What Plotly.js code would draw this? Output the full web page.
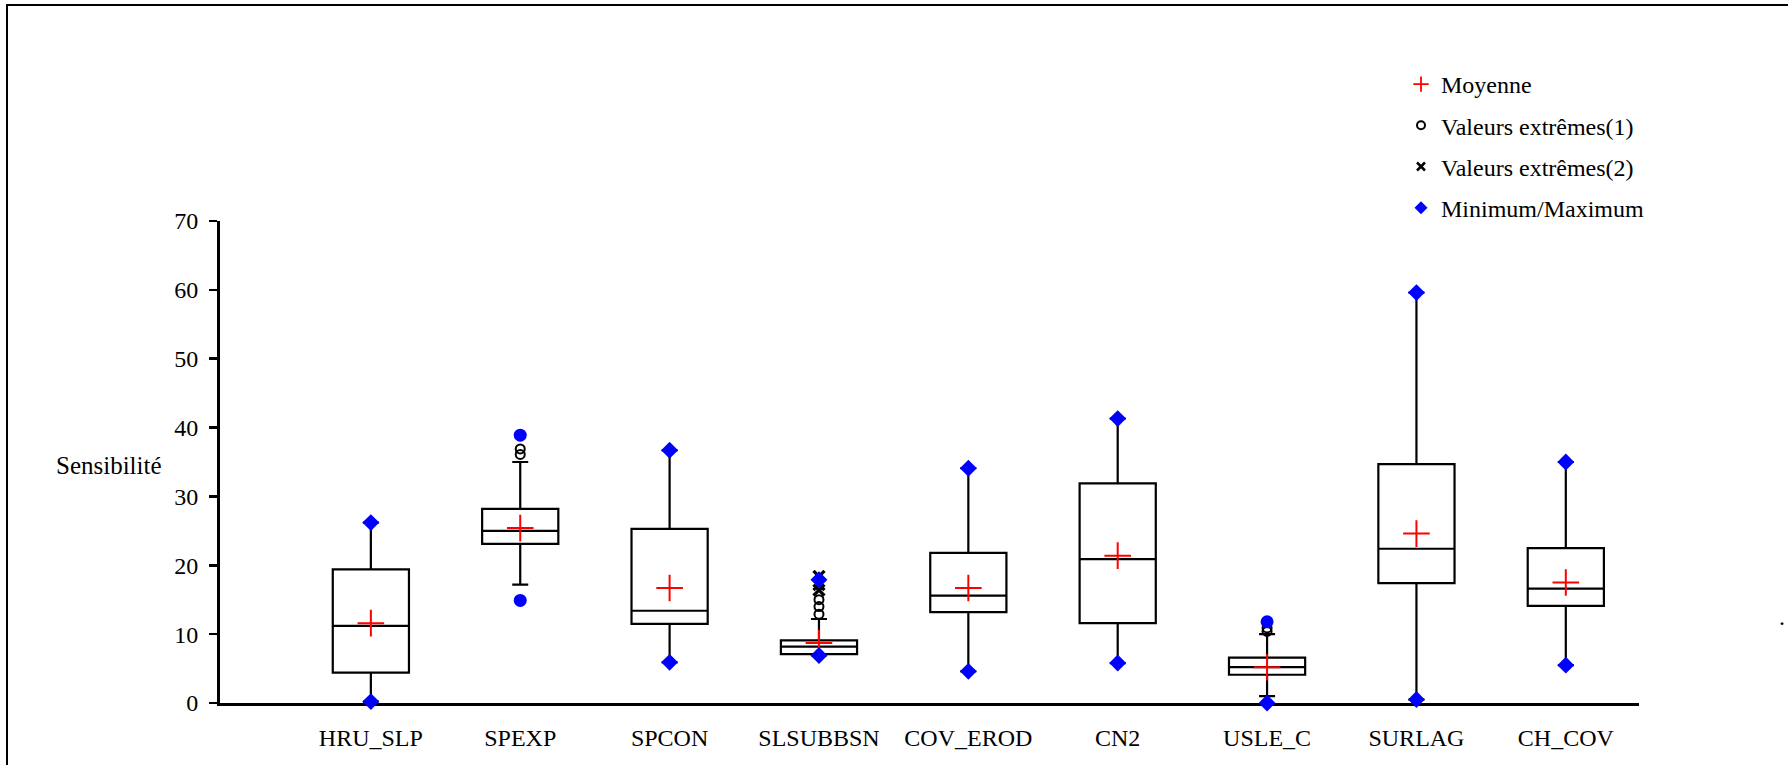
<!DOCTYPE html>
<html>
<head>
<meta charset="utf-8">
<script src="https://cdn.plot.ly/plotly-3.0.1.min.js"></script>
<style>
html, body { margin: 0; padding: 0; background: #fff; }
#wrap { position: relative; width: 1788px; height: 765px; overflow: hidden; }
#frame { position: absolute; left: 6px; top: 4px; width: 2000px; height: 1000px; border-left: 2px solid #000; border-top: 2px solid #000; pointer-events: none; z-index: 5; }
#chart { position: absolute; left: 0; top: 0; width: 1788px; height: 765px; }
</style>
</head>
<body>
<div id="wrap">
  <div id="chart"></div>
  <div id="frame"></div>
</div>
<script>
// ---- data ----
const categories = ['HRU_SLP', 'SPEXP', 'SPCON', 'SLSUBBSN', 'COV_EROD', 'CN2', 'USLE_C', 'SURLAG', 'CH_COV'];
const q1Values = [4.4, 23.1, 11.5, 7.1, 13.2, 11.6, 4.1, 17.4, 14.1];
const medianValues = [11.2, 25.0, 13.4, 8.2, 15.6, 20.9, 5.2, 22.4, 16.6];
const q3Values = [19.4, 28.2, 25.3, 9.1, 21.8, 31.9, 6.6, 34.7, 22.5];
const lowerWhisker = [0.2, 17.2, 5.9, 6.9, 4.6, 5.8, 1.0, 0.5, 5.5];
const upperWhisker = [26.2, 35.0, 36.7, 12.2, 34.1, 41.3, 10.0, 59.6, 35.0];
const meanValues = [11.6, 25.4, 16.7, 8.7, 16.7, 21.4, 5.2, 24.6, 17.5];
const minValues = [0.2, 14.9, 5.9, 6.9, 4.6, 5.8, 0.0, 0.5, 5.5];
const maxValues = [26.2, 38.9, 36.7, 17.9, 34.1, 41.3, 11.8, 59.6, 35.0];
const minSymbols = ['diamond', 'circle', 'diamond', 'diamond', 'diamond', 'diamond', 'diamond', 'diamond', 'diamond'];
const maxSymbols = ['diamond', 'circle', 'diamond', 'diamond', 'diamond', 'diamond', 'circle', 'diamond', 'diamond'];
const extreme1Cats = ['SPEXP', 'SPEXP', 'SLSUBBSN', 'SLSUBBSN', 'SLSUBBSN', 'USLE_C', 'USLE_C'];
const extreme1Vals = [36.1, 36.9, 12.9, 14.0, 15.0, 10.4, 10.9];
const extreme2Cats = ['SLSUBBSN', 'SLSUBBSN', 'SLSUBBSN'];
const extreme2Vals = [16.4, 17.2, 18.4];
const legendNames = ['Moyenne', 'Valeurs extrêmes(1)', 'Valeurs extrêmes(2)', 'Minimum/Maximum'];

const FONT = 'Liberation Serif, Times New Roman, serif';
const FS = 24;

// ---- traces ----
const boxTrace = {
  type: 'box',
  x: categories,
  q1: q1Values,
  median: medianValues,
  q3: q3Values,
  lowerfence: lowerWhisker,
  upperfence: upperWhisker,
  boxpoints: false,
  width: 0.51,
  whiskerwidth: 0.21,
  fillcolor: 'rgba(255,255,255,0)',
  line: { color: '#000', width: 2.2 },
  showlegend: false,
  hoverinfo: 'skip'
};

const meanMarker = { symbol: 'cross-thin', size: 19, color: '#ff0000', line: { color: '#ff0000', width: 2 } };
const ext1Marker = { symbol: 'circle-open', size: 9, color: '#000', line: { color: '#000', width: 2 } };
const ext2Marker = { symbol: 'x-thin', size: 11, color: '#000', line: { color: '#000', width: 3.2 } };

const meanTrace = { type: 'scatter', mode: 'markers', showlegend: false, x: categories, y: meanValues, cliponaxis: false, marker: meanMarker };
const ext1Trace = { type: 'scatter', mode: 'markers', showlegend: false, x: extreme1Cats, y: extreme1Vals, cliponaxis: false, marker: ext1Marker };
const ext2Trace = { type: 'scatter', mode: 'markers', showlegend: false, x: extreme2Cats, y: extreme2Vals, cliponaxis: false, marker: ext2Marker };
const minTrace = { type: 'scatter', mode: 'markers', showlegend: false, x: categories, y: minValues, cliponaxis: false,
  marker: { symbol: minSymbols, size: 13, color: '#0000ff', line: { width: 0 } } };
const maxTrace = { type: 'scatter', mode: 'markers', showlegend: false, x: categories, y: maxValues, cliponaxis: false,
  marker: { symbol: maxSymbols, size: 13, color: '#0000ff', line: { width: 0 } } };

// legend-only entries (smaller symbols as in the reference legend)
const legendEntries = [
  { name: legendNames[0], marker: { symbol: 'cross-thin', size: 11, color: '#ff0000', line: { color: '#ff0000', width: 1.8 } } },
  { name: legendNames[1], marker: { symbol: 'circle-open', size: 8, color: '#000', line: { color: '#000', width: 2 } } },
  { name: legendNames[2], marker: { symbol: 'x-thin', size: 8, color: '#000', line: { color: '#000', width: 2.5 } } },
  { name: legendNames[3], marker: { symbol: 'diamond', size: 10, color: '#0000ff', line: { width: 0 } } }
].map((e, i) => ({
  type: 'scatter', mode: 'markers', name: e.name, legendgroup: 'g' + i,
  x: [null], y: [null], marker: e.marker, showlegend: true, hoverinfo: 'skip'
}));

const plotLeft = 220, plotRight = 1639, plotTop = 221, plotBottom = 703;
const W = 1788, H = 765;
const pw = plotRight - plotLeft, ph = plotBottom - plotTop;
const px = v => (v - plotLeft) / pw;
const py = v => (plotBottom - v) / ph;

const layout = {
  width: W, height: H,
  margin: { l: plotLeft, r: W - plotRight, t: plotTop, b: H - plotBottom, pad: 0 },
  paper_bgcolor: '#fff', plot_bgcolor: '#fff',
  font: { family: FONT, size: FS, color: '#000' },
  showlegend: true,
  legend: {
    x: px(1401), y: py(62), xanchor: 'left', yanchor: 'top',
    traceorder: 'grouped', tracegroupgap: 7, itemwidth: 30,
    bgcolor: 'rgba(0,0,0,0)', borderwidth: 0,
    font: { family: FONT, size: FS, color: '#000' }
  },
  xaxis: {
    type: 'category', categoryorder: 'array', categoryarray: categories,
    range: [-1.01, 8.49],
    showline: true, linecolor: '#000', linewidth: 3,
    ticks: 'outside', ticklen: 11, tickcolor: 'rgba(0,0,0,0)',
    showgrid: false, zeroline: false, layer: 'below traces',
    tickfont: { size: FS }
  },
  yaxis: {
    range: [0, 70], dtick: 10, tick0: 0,
    showline: true, linecolor: '#000', linewidth: 3,
    ticks: 'outside', ticklen: 8, tickwidth: 2.5, tickcolor: '#000',
    ticklabelstandoff: 6,
    showgrid: false, zeroline: false, layer: 'below traces',
    tickfont: { size: FS }
  },
  annotations: [
    { text: 'Sensibilité', xref: 'paper', yref: 'paper', x: px(164), y: py(465),
      xanchor: 'right', yanchor: 'middle', showarrow: false,
      font: { size: FS + 1, color: '#000' } },
    { text: '.', xref: 'paper', yref: 'paper', x: px(1782), y: py(617),
      xanchor: 'center', yanchor: 'middle', showarrow: false,
      font: { size: FS, color: '#000' } }
  ]
};

Plotly.newPlot('chart', [boxTrace, meanTrace, ext1Trace, ext2Trace, minTrace, maxTrace].concat(legendEntries), layout, { displayModeBar: false, staticPlot: true });
</script>
</body>
</html>
